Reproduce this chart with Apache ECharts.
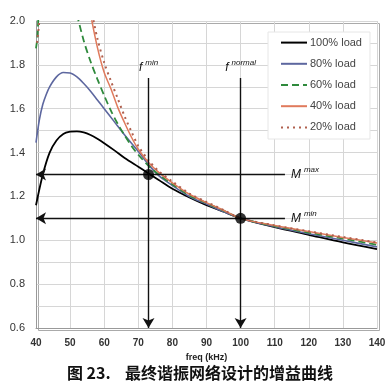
<!DOCTYPE html>
<html><head><meta charset="utf-8">
<script src="https://cdn.jsdelivr.net/npm/echarts@6/dist/echarts.min.js"></script>
<style>html,body{margin:0;padding:0;background:#fff}#c{width:391px;height:387px}</style>
</head><body><div id="c"></div>
<script>
// ---- data ----
var xTicks = [40, 50, 60, 70, 80, 90, 100, 110, 120, 130, 140];
var yTicks = [0.6, 0.8, 1.0, 1.2, 1.4, 1.6, 1.8, 2.0];

var freq100 = [40, 42, 44, 46, 48, 50, 52, 54, 56, 58, 60, 63, 66, 70, 73, 76, 80, 85, 90, 95, 100, 110, 120, 130, 140];
var gain100 = [1.16, 1.30, 1.40, 1.455, 1.485, 1.495, 1.497, 1.492, 1.48, 1.463, 1.443, 1.41, 1.375, 1.335, 1.305, 1.275, 1.235, 1.195, 1.16, 1.13, 1.10, 1.06, 1.025, 0.99, 0.96];

var freq80 = [40, 41, 42, 43, 44, 46, 48, 50, 52, 54, 56, 58, 60, 63, 66, 70, 73, 76, 80, 85, 90, 95, 100, 110, 120, 130, 140];
var gain80 = [1.445, 1.55, 1.62, 1.665, 1.70, 1.745, 1.765, 1.763, 1.745, 1.715, 1.68, 1.64, 1.60, 1.54, 1.48, 1.405, 1.345, 1.295, 1.25, 1.20, 1.165, 1.13, 1.10, 1.062, 1.03, 1.0, 0.97];

var freq60a = [40, 40.4, 40.8];
var gain60a = [1.875, 1.92, 2.05];
var freq60 = [52, 54, 56, 58, 60, 62, 64, 66, 68, 70, 73, 76, 80, 85, 90, 95, 100, 110, 120, 130, 140];
var gain60 = [2.03, 1.91, 1.815, 1.735, 1.66, 1.59, 1.53, 1.478, 1.43, 1.39, 1.34, 1.30, 1.255, 1.205, 1.17, 1.135, 1.10, 1.065, 1.035, 1.008, 0.98];

var freq40 = [56, 58, 60, 62, 64, 66, 68, 70, 73, 76, 80, 85, 90, 95, 100, 110, 120, 130, 140];
var gain40 = [2.03, 1.88, 1.765, 1.69, 1.605, 1.535, 1.47, 1.415, 1.355, 1.31, 1.262, 1.21, 1.172, 1.137, 1.10, 1.067, 1.04, 1.013, 0.988];

var freq20a = [40.3, 40.8, 41.3];
var gain20a = [1.90, 1.97, 2.06];
var freq20 = [56.5, 58, 60, 62, 64, 66, 68, 70, 73, 76, 80, 85, 90, 95, 100, 110, 120, 130, 140];
var gain20 = [2.03, 1.92, 1.81, 1.725, 1.645, 1.565, 1.495, 1.43, 1.365, 1.315, 1.268, 1.213, 1.175, 1.138, 1.10, 1.068, 1.041, 1.015, 0.99];

var opFreq = [73, 100];
var opGain = [1.3, 1.1];
var mLineEnd = 113;
var fLineTop = 1.74;

function pairs(xs, ys) { return xs.map(function (x, i) { return [x, ys[i]]; }); }

var chart = echarts.init(document.getElementById('c'));
var lineBase = { type: 'line', symbol: 'none', smooth: 0.3, clip: true, z: 3 };
function mk(name, xs, ys, color, type, width) {
  return Object.assign({}, lineBase, {
    name: name, data: pairs(xs, ys),
    lineStyle: { color: color, type: type, width: width }, itemStyle: { color: color }
  });
}
var C100 = '#000000', C80 = '#5d679f', C60 = '#2f8a3c', C40 = '#e07a5c', C20 = '#b0604e';

var rich = {
  f: { fontSize: 12, fontStyle: 'italic', fontFamily: 'Liberation Sans', color: '#111' },
  s: { fontSize: 8, fontStyle: 'italic', fontFamily: 'Liberation Sans', color: '#111', padding: [0, 0, 9, 3] }
};

var series = [
  mk('100% load', freq100, gain100, C100, 'solid', 1.8),
  mk('80% load', freq80, gain80, C80, 'solid', 1.6),
  mk('60% load', freq60, gain60, C60, [7, 4], 1.8),
  mk('40% load', freq40, gain40, C40, 'solid', 1.5),
  mk('20% load', freq20, gain20, C20, [2, 4], 2),
  Object.assign({}, lineBase, { name: '60% load', data: pairs(freq60a, gain60a), smooth: false, lineStyle: { color: C60, type: [7, 4], width: 1.8 } }),
  Object.assign({}, lineBase, { name: '20% load', data: pairs(freq20a, gain20a), smooth: false, lineStyle: { color: C20, type: [2, 4], width: 2 } }),
  {
    type: 'scatter', data: pairs(opFreq, opGain), symbolSize: 11, itemStyle: { color: '#000' }, z: 10,
    markLine: {
      silent: true, animation: false, symbolSize: [9, 10],
      lineStyle: { color: '#111', type: 'solid', width: 1.4 },
      data: [
        [{ coord: [mLineEnd, opGain[0]], symbol: 'none', label: { show: true, position: 'start', formatter: '{f|M}{s|max}', rich: rich, distance: 6 } },
         { coord: [40, opGain[0]], symbol: 'arrow' }],
        [{ coord: [mLineEnd, opGain[1]], symbol: 'none', label: { show: true, position: 'start', formatter: '{f|M}{s|min}', rich: rich, distance: 6 } },
         { coord: [40, opGain[1]], symbol: 'arrow' }],
        [{ coord: [opFreq[0], fLineTop], symbol: 'none', label: { show: true, position: 'start', formatter: '{f|f}{s|min}', rich: rich, distance: 2 } },
         { coord: [opFreq[0], 0.6], symbol: 'arrow' }],
        [{ coord: [opFreq[1], fLineTop], symbol: 'none', label: { show: true, position: 'start', formatter: '{f|f}{s|normal}', rich: rich, distance: 2 } },
         { coord: [opFreq[1], 0.6], symbol: 'arrow' }]
      ]
    }
  }
];

chart.setOption({
  animation: false,
  backgroundColor: '#fff',
  title: {
    text: '图 23.    最终谐振网络设计的增益曲线',
    left: 195, textAlign: 'center', top: 360,
    textStyle: { fontFamily: 'Noto Sans CJK SC', fontSize: 16, fontWeight: 'bold', color: '#111' }
  },
  legend: {
    data: ['100% load', '80% load', '60% load', '40% load', '20% load'],
    orient: 'vertical', left: 268, top: 32,
    padding: [5, 8, 6, 12], itemGap: 10, itemWidth: 26, itemHeight: 14,
    backgroundColor: '#fff', borderColor: '#e6e6e6', borderWidth: 1,
    itemStyle: { opacity: 0 },
    textStyle: { fontFamily: 'Liberation Sans', fontSize: 11, color: '#444', padding: [0, 0, 0, -2] }
  },
  grid: { left: 36, right: 14, top: 21, bottom: 59 },
  xAxis: {
    type: 'value', min: 40, max: 140, interval: 10,
    name: 'freq (kHz)', nameLocation: 'middle', nameGap: 24,
    nameTextStyle: { fontFamily: 'Liberation Sans', fontSize: 9, fontWeight: 'bold', color: '#222' },
    axisLine: { show: true, lineStyle: { color: '#999', width: 1 } },
    axisTick: { show: false },
    axisLabel: { fontFamily: 'Liberation Sans', fontSize: 10, fontWeight: 'bold', color: '#333', margin: 10,
      formatter: function (v) { return xTicks.indexOf(v) >= 0 ? String(v) : ''; } },
    splitLine: { show: true, lineStyle: { color: '#d6d6d6', width: 1 } }
  },
  yAxis: {
    type: 'value', min: 0.6, max: 2.0, interval: 0.2,
    axisLine: { show: true, lineStyle: { color: '#999', width: 1 } },
    axisTick: { show: false },
    axisLabel: { fontFamily: 'Liberation Sans', fontSize: 11, color: '#333', margin: 11,
      formatter: function (v) { return v.toFixed(1); } },
    splitLine: { show: true, lineStyle: { color: '#d6d6d6', width: 1 } },
    minorTick: { show: false, splitNumber: 2 },
    minorSplitLine: { show: true, lineStyle: { color: '#d6d6d6', width: 1 } }
  },
  graphic: [{
    type: 'rect', left: 36, top: 21, shape: { width: 341, height: 307 }, silent: true, z: 0,
    style: { fill: 'none', stroke: '#aaa', lineWidth: 1 }
  }],
  series: series
});
</script></body></html>
